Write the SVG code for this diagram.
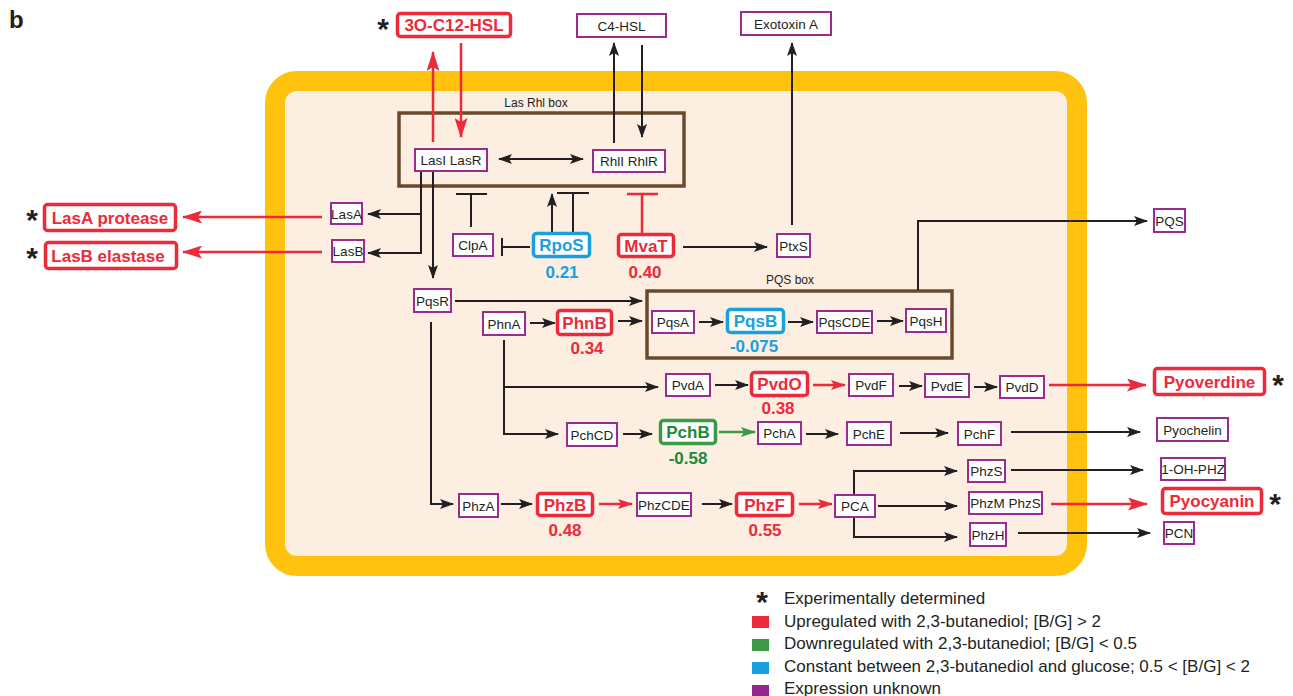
<svg xmlns="http://www.w3.org/2000/svg" width="1293" height="696" viewBox="0 0 1293 696">
<style>
text{font-family:"Liberation Sans",Arial,sans-serif}
.n{fill:#fff;stroke:#9a2c91;stroke-width:2}
.t{font-size:13.5px;fill:#231f20;text-anchor:middle}
.r{fill:#fff;stroke:#ed2a3a;stroke-width:3.5}
.b{fill:#fff;stroke:#1aa0dc;stroke-width:3.5}
.g{fill:#fff;stroke:#3a9a45;stroke-width:3.5}
.bt{font-size:17px;font-weight:bold;text-anchor:middle}
.rt{fill:#ed2a3a}.btc{fill:#1aa0dc}.gt{fill:#1b8a3c}
.k{fill:none;stroke:#231f20;stroke-width:2}
.rl{fill:none;stroke:#ed2a3a;stroke-width:2.5}
.gl{fill:none;stroke:#3a9a45;stroke-width:2.5}
.ast{font-size:30px;font-weight:bold;fill:#231f20;text-anchor:middle}
.lg{font-size:17px;fill:#231f20}
.box{fill:none;stroke:#6a4a2c;stroke-width:3.5}
.bl{font-size:12px;fill:#231f20;text-anchor:middle}
</style>
<defs>
<marker id="ab" viewBox="0 0 14 10" markerWidth="14" markerHeight="10" refX="13" refY="5" orient="auto-start-reverse" markerUnits="userSpaceOnUse"><path d="M0,0 L14,5 L0,10 L3,5 z" fill="#231f20"/></marker>
<marker id="ar" viewBox="0 0 20 13" markerWidth="20" markerHeight="13" refX="19" refY="6.5" orient="auto" markerUnits="userSpaceOnUse"><path d="M0,0 L20,6.5 L0,13 L4,6.5 z" fill="#ed2a3a"/></marker>
<marker id="as" viewBox="0 0 15 10" markerWidth="15" markerHeight="10" refX="14" refY="5" orient="auto" markerUnits="userSpaceOnUse"><path d="M0,0 L15,5 L0,10 L3,5 z" fill="#ed2a3a"/></marker>
<marker id="ag" viewBox="0 0 15 10" markerWidth="15" markerHeight="10" refX="14" refY="5" orient="auto" markerUnits="userSpaceOnUse"><path d="M0,0 L15,5 L0,10 L3,5 z" fill="#3a9a45"/></marker>
</defs>
<rect width="1293" height="696" fill="#fff"/>
<text x="9" y="28" font-size="24" font-weight="bold" fill="#231f20">b</text>

<g id="cell">
<rect x="275" y="81" width="802" height="485" rx="22" fill="#fdeee2" stroke="#ffc20e" stroke-width="20"/>
</g>
<g id="lasrhl-box">
<rect class="box" x="399" y="113" width="285" height="73"/>
<text class="bl" x="536" y="107">Las Rhl box</text>
</g>
<g id="pqs-box">
<rect class="box" x="647" y="291" width="305" height="67"/>
<text class="bl" x="790" y="284">PQS box</text>
</g>

<g id="connectors">
<path class="k" d="M421,172 V214 H368" marker-end="url(#ab)"/>
<path class="k" d="M421,214 V253 H368" marker-end="url(#ab)"/>
<path class="k" d="M433,172 V278" marker-end="url(#ab)"/>
<path class="k" d="M499,159 H583" marker-start="url(#ab)" marker-end="url(#ab)"/>
<path class="k" d="M614,143 V43" marker-end="url(#ab)"/>
<path class="k" d="M642,45 V137" marker-end="url(#ab)"/>
<path class="k" d="M552,232 V194" marker-end="url(#ab)"/>
<path class="k" d="M683,247 H767" marker-end="url(#ab)"/>
<path class="k" d="M792,225 V43" marker-end="url(#ab)"/>
<path class="k" d="M455,301 H642" marker-end="url(#ab)"/>
<path class="k" d="M530,323 H555" marker-end="url(#ab)"/>
<path class="k" d="M618,321 H642" marker-end="url(#ab)"/>
<path class="k" d="M699,322 H723" marker-end="url(#ab)"/>
<path class="k" d="M788,322 H813" marker-end="url(#ab)"/>
<path class="k" d="M877,321 H903" marker-end="url(#ab)"/>
<path class="k" d="M918,290 V221 H1147" marker-end="url(#ab)"/>
<path class="k" d="M504,340 V387 H658" marker-end="url(#ab)"/>
<path class="k" d="M504,387 V434 H558" marker-end="url(#ab)"/>
<path class="k" d="M715,385 H748" marker-end="url(#ab)"/>
<path class="k" d="M899,386 H922" marker-end="url(#ab)"/>
<path class="k" d="M974,387 H997" marker-end="url(#ab)"/>
<path class="k" d="M623,434 H652" marker-end="url(#ab)"/>
<path class="k" d="M806,434 H838" marker-end="url(#ab)"/>
<path class="k" d="M900,433 H948" marker-end="url(#ab)"/>
<path class="k" d="M1011,432 H1140" marker-end="url(#ab)"/>
<path class="k" d="M431,322 V504 H453" marker-end="url(#ab)"/>
<path class="k" d="M501,504 H532" marker-end="url(#ab)"/>
<path class="k" d="M702,504 H732" marker-end="url(#ab)"/>
<path class="k" d="M854,494 V471 H957" marker-end="url(#ab)"/>
<path class="k" d="M878,506 H957" marker-end="url(#ab)"/>
<path class="k" d="M854,518 V537 H957" marker-end="url(#ab)"/>
<path class="k" d="M1011,470 H1143" marker-end="url(#ab)"/>
<path class="k" d="M1018,533 H1150" marker-end="url(#ab)"/>
<path class="k" d="M471,227 V194 M456,194 H487"/>
<path class="k" d="M573,232 V193 M557,193 H589"/>
<path class="k" d="M530,247 H502 M502,238 V256"/>
<path class="rl" d="M642,233 V194 M627,194 H658"/>
<path class="rl" d="M322,217 H183" marker-end="url(#ar)"/>
<path class="rl" d="M322,252 H183" marker-end="url(#ar)"/>
<path class="rl" d="M433,142 V52" marker-end="url(#ar)"/>
<path class="rl" d="M461,43 V137" marker-end="url(#ar)"/>
<path class="rl" d="M1049,385 H1146" marker-end="url(#ar)"/>
<path class="rl" d="M1051,504 H1147" marker-end="url(#ar)"/>
<path class="rl" d="M813,385 H845" marker-end="url(#as)"/>
<path class="rl" d="M599,504 H632" marker-end="url(#as)"/>
<path class="rl" d="M799,504 H832" marker-end="url(#as)"/>
<path class="gl" d="M719,432 H755" marker-end="url(#ag)"/>
</g>

<g id="LasILasR"><rect class="n" x="415" y="149" width="72" height="22"/><text class="t" x="451" y="165">LasI LasR</text></g>
<g id="RhlIRhlR"><rect class="n" x="593" y="150" width="72" height="22"/><text class="t" x="629" y="166">RhlI RhlR</text></g>
<g id="C4HSL"><rect class="n" x="577" y="14" width="89" height="23"/><text class="t" x="621.5" y="30.5">C4-HSL</text></g>
<g id="ExotoxinA"><rect class="n" x="741" y="12" width="90" height="23"/><text class="t" x="786" y="28.5">Exotoxin A</text></g>
<g id="LasA"><rect class="n" x="331" y="203" width="31" height="21"/><text class="t" x="346.5" y="218.5">LasA</text></g>
<g id="LasB"><rect class="n" x="332" y="240" width="32" height="22"/><text class="t" x="348" y="256">LasB</text></g>
<g id="ClpA"><rect class="n" x="453" y="234" width="40" height="22"/><text class="t" x="473" y="250">ClpA</text></g>
<g id="PtxS"><rect class="n" x="777" y="234" width="33" height="23"/><text class="t" x="793.5" y="250.5">PtxS</text></g>
<g id="PQS"><rect class="n" x="1154" y="209" width="31" height="23"/><text class="t" x="1169.5" y="225.5">PQS</text></g>
<g id="PqsR"><rect class="n" x="414" y="289" width="37" height="23"/><text class="t" x="432.5" y="305.5">PqsR</text></g>
<g id="PhnA"><rect class="n" x="483" y="312" width="42" height="23"/><text class="t" x="504" y="328.5">PhnA</text></g>
<g id="PqsA"><rect class="n" x="652" y="311" width="42" height="22"/><text class="t" x="673" y="327">PqsA</text></g>
<g id="PqsCDE"><rect class="n" x="817" y="311" width="55" height="22"/><text class="t" x="844.5" y="327">PqsCDE</text></g>
<g id="PqsH"><rect class="n" x="906" y="309" width="40" height="23"/><text class="t" x="926" y="325.5">PqsH</text></g>
<g id="PvdA"><rect class="n" x="666" y="374" width="44" height="22"/><text class="t" x="688" y="390">PvdA</text></g>
<g id="PvdF"><rect class="n" x="849" y="374" width="44" height="22"/><text class="t" x="871" y="390">PvdF</text></g>
<g id="PvdE"><rect class="n" x="925" y="374" width="44" height="23"/><text class="t" x="947" y="390.5">PvdE</text></g>
<g id="PvdD"><rect class="n" x="1000" y="376" width="44" height="22"/><text class="t" x="1022" y="392">PvdD</text></g>
<g id="PchCD"><rect class="n" x="567" y="423" width="50" height="23"/><text class="t" x="592" y="439.5">PchCD</text></g>
<g id="PchA"><rect class="n" x="758" y="422" width="43" height="22"/><text class="t" x="779.5" y="438">PchA</text></g>
<g id="PchE"><rect class="n" x="847" y="422" width="44" height="23"/><text class="t" x="869" y="438.5">PchE</text></g>
<g id="PchF"><rect class="n" x="958" y="422" width="43" height="23"/><text class="t" x="979.5" y="438.5">PchF</text></g>
<g id="Pyochelin"><rect class="n" x="1157" y="418" width="71" height="23"/><text class="t" x="1192.5" y="434.5">Pyochelin</text></g>
<g id="PhzA"><rect class="n" x="459" y="494" width="39" height="23"/><text class="t" x="478.5" y="510.5">PhzA</text></g>
<g id="PhzCDE"><rect class="n" x="637" y="493" width="54" height="23"/><text class="t" x="664" y="509.5">PhzCDE</text></g>
<g id="PCA"><rect class="n" x="835" y="495" width="40" height="22"/><text class="t" x="855" y="511">PCA</text></g>
<g id="PhzS"><rect class="n" x="968" y="460" width="37" height="22"/><text class="t" x="986.5" y="476">PhzS</text></g>
<g id="PhzMPhzS"><rect class="n" x="969" y="492" width="73" height="22"/><text class="t" x="1005.5" y="508">PhzM PhzS</text></g>
<g id="PhzH"><rect class="n" x="970" y="523" width="36" height="23"/><text class="t" x="988" y="539.5">PhzH</text></g>
<g id="OHPHZ"><rect class="n" x="1161" y="458" width="64" height="22"/><text class="t" x="1193" y="474">1-OH-PHZ</text></g>
<g id="PCN"><rect class="n" x="1164" y="522" width="30" height="22"/><text class="t" x="1179" y="538">PCN</text></g>

<g id="C12HSL"><rect class="r" x="397.5" y="13.5" width="113" height="23" rx="3"/><text class="bt rt" x="454" y="31">3O-C12-HSL</text><text class="ast" x="383" y="39">*</text></g>
<g id="LasAprotease"><rect class="r" x="44.5" y="204.5" width="131" height="26" rx="3"/><text class="bt rt" x="110" y="223.5">LasA protease</text><text class="ast" x="32" y="230">*</text></g>
<g id="LasBelastase"><rect class="r" x="45.5" y="242.5" width="131" height="26" rx="3"/><text class="bt rt" x="108" y="261.5">LasB elastase</text><text class="ast" x="32" y="268">*</text></g>
<g id="RpoS"><rect class="b" x="533.5" y="233.5" width="56" height="23" rx="3"/><text class="bt btc" x="561.5" y="251">RpoS</text><text class="bt btc" x="562" y="278">0.21</text></g>
<g id="MvaT"><rect class="r" x="618.5" y="234.5" width="55" height="22" rx="3"/><text class="bt rt" x="646" y="251.5">MvaT</text><text class="bt rt" x="645" y="278">0.40</text></g>
<g id="PhnB"><rect class="r" x="557.5" y="310.5" width="54" height="24" rx="3"/><text class="bt rt" x="584.5" y="328.5">PhnB</text><text class="bt rt" x="587" y="354">0.34</text></g>
<g id="PqsB"><rect class="b" x="727.5" y="309.5" width="56" height="23" rx="3"/><text class="bt btc" x="755.5" y="327">PqsB</text><text class="bt btc" x="754" y="352">-0.075</text></g>
<g id="PvdO"><rect class="r" x="751.5" y="372.5" width="56" height="23" rx="3"/><text class="bt rt" x="779.5" y="390">PvdO</text><text class="bt rt" x="778" y="414">0.38</text></g>
<g id="Pyoverdine"><rect class="r" x="1154.5" y="368.5" width="110" height="26" rx="3"/><text class="bt rt" x="1209.5" y="387.5">Pyoverdine</text><text class="ast" x="1278" y="395">*</text></g>
<g id="PchB"><rect class="g" x="660.5" y="420.5" width="55" height="23" rx="3"/><text class="bt gt" x="688" y="438">PchB</text><text class="bt gt" x="688" y="464">-0.58</text></g>
<g id="PhzB"><rect class="r" x="537.5" y="493.5" width="55" height="22" rx="3"/><text class="bt rt" x="565" y="510.5">PhzB</text><text class="bt rt" x="565" y="536">0.48</text></g>
<g id="PhzF"><rect class="r" x="736.5" y="493.5" width="56" height="22" rx="3"/><text class="bt rt" x="764.5" y="510.5">PhzF</text><text class="bt rt" x="765" y="536">0.55</text></g>
<g id="Pyocyanin"><rect class="r" x="1162.5" y="488.5" width="99" height="25" rx="3"/><text class="bt rt" x="1212" y="507">Pyocyanin</text><text class="ast" x="1275" y="514">*</text></g>

<g id="legend">
<text class="ast" x="762" y="612">*</text>
<text class="lg" x="784" y="604">Experimentally determined</text>
<rect x="752" y="616" width="17" height="12" fill="#ed2a3a"/>
<text class="lg" x="784" y="627">Upregulated with 2,3-butanediol; [B/G] &gt; 2</text>
<rect x="752" y="639" width="17" height="12" fill="#3a9a45"/>
<text class="lg" x="784" y="649">Downregulated with 2,3-butanediol; [B/G] &lt; 0.5</text>
<rect x="752" y="662" width="17" height="12" fill="#1aa0dc"/>
<text class="lg" x="784" y="672">Constant between 2,3-butanediol and glucose; 0.5 &lt; [B/G] &lt; 2</text>
<rect x="752" y="685" width="17" height="12" fill="#92278f"/>
<text class="lg" x="784" y="694">Expression unknown</text>
</g>
</svg>
